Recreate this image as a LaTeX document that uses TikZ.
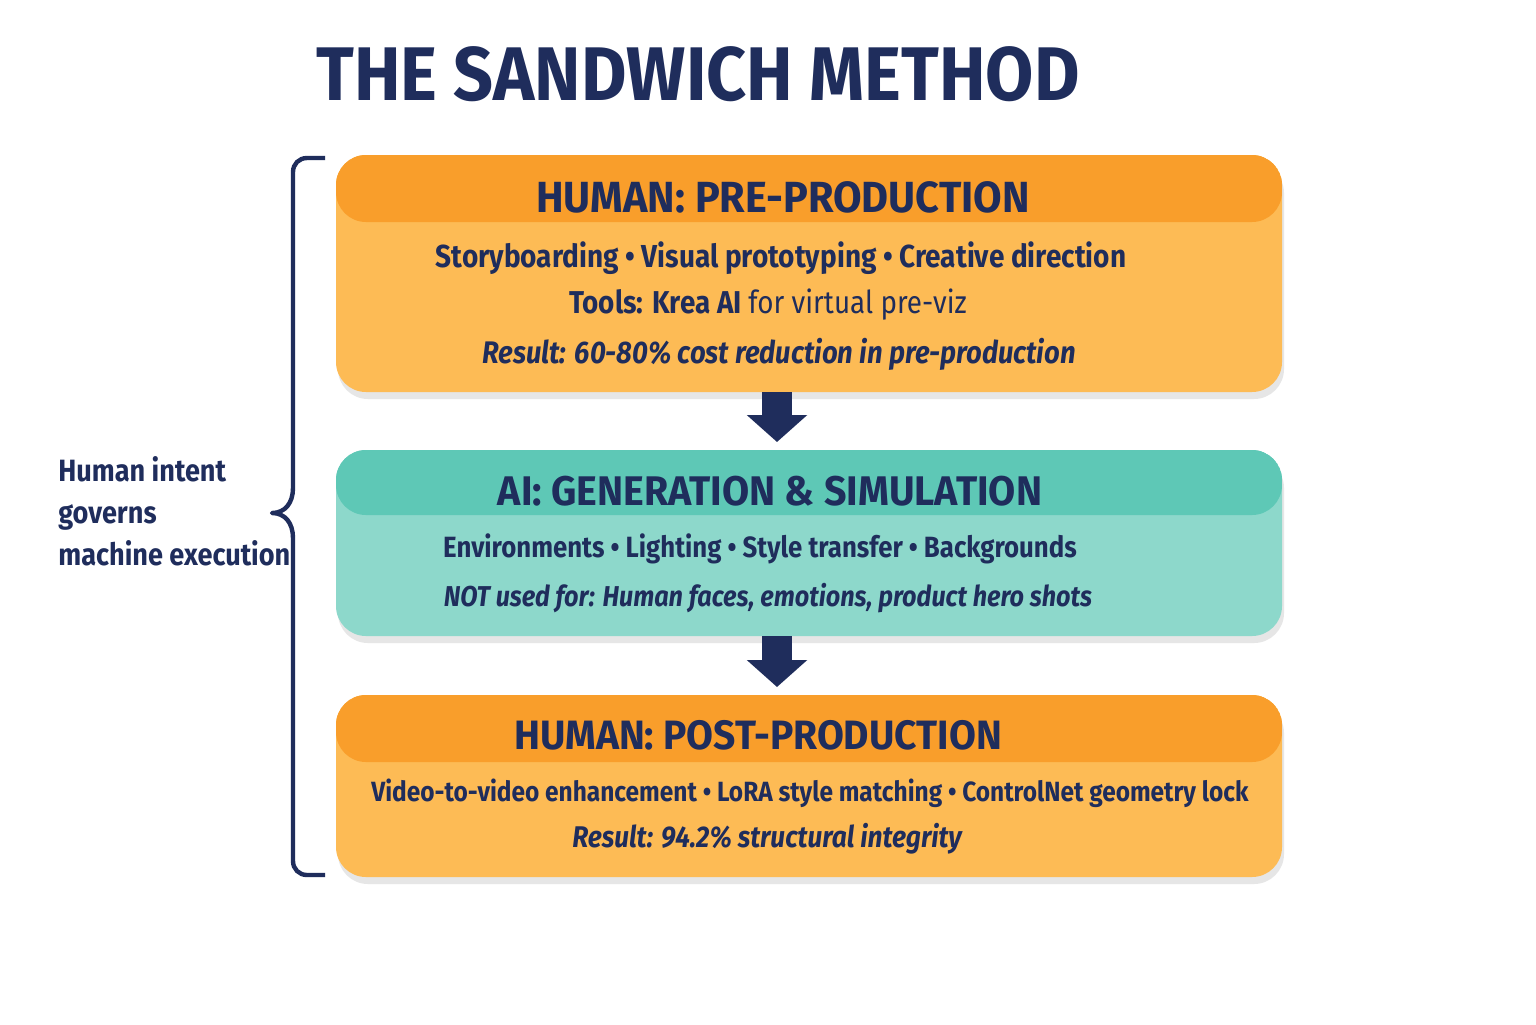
\documentclass[tikz,border=0pt]{standalone}
\usepackage{fontspec}
\setmainfont{Fira Sans}
\newfontfamily\titlefont[FakeStretch=0.92]{Fira Sans}
\newfontfamily\hdrfont[FakeStretch=0.95]{Fira Sans}
\newfontfamily\boxfont[FakeStretch=0.88]{Fira Sans}
\usetikzlibrary{arrows.meta}
\definecolor{navy}{HTML}{1F2D5C}
\definecolor{orhdr}{HTML}{F99E2B}
\definecolor{orbody}{HTML}{FDBB55}
\definecolor{tlhdr}{HTML}{5EC8B6}
\definecolor{tlbody}{HTML}{8DD8CB}
\definecolor{shade}{HTML}{E6E6E6}
\tikzset{
  panel/.style={rounded corners=15pt, minimum width=473pt, inner sep=0pt},
  orpanel/.style={panel, fill=orbody, path picture={\fill[orhdr] (path picture bounding box.north west) rectangle ([yshift=-33.5pt]path picture bounding box.north east);}},
  tlpanel/.style={panel, fill=tlbody, path picture={\fill[tlhdr] (path picture bounding box.north west) rectangle ([yshift=-32.5pt]path picture bounding box.north east);}},
  shadowbox/.style={rounded corners=15pt, fill=shade},
  hdrtext/.style={text=navy, font=\hdrfont\bfseries\fontsize{#1}{25}\selectfont, inner sep=0pt},
  bodytext/.style={text=navy, font=\boxfont\bfseries\fontsize{#1}{17}\selectfont, inner sep=0pt},
  bigarrow/.style={navy, line width=15pt, -{Triangle[width=29.5pt,length=13.5pt]}, shorten >=4pt},
}
\begin{document}
\begin{tikzpicture}[x=0.5pt,y=-0.5pt]
\useasboundingbox (0,0) rectangle (1536,1024);
\fill[white] (0,0) rectangle (1536,1024);
% title
\node[text=navy, font=\titlefont\bfseries\fontsize{38}{40}\selectfont, inner sep=0pt] (title) at (698,74) {THE SANDWICH METHOD};
% shadows
\fill[shadowbox] (338,163) rectangle (1284,399);
\fill[shadowbox] (338,458) rectangle (1284,643);
\fill[shadowbox] (338,703) rectangle (1284,884);
% panels
\node[orpanel, minimum height=118.5pt] (p1) at (809,273.5) {};
\node[tlpanel, minimum height=93pt] (p2) at (809,543) {};
\node[orpanel, minimum height=91pt] (p3) at (809,786) {};
% panel 1 text
\node[hdrtext=21.8] (h1) at (783,197) {HUMAN: PRE-PRODUCTION};
\node[bodytext=15.9] (l11) at (781,258) {Storyboarding • Visual prototyping • Creative direction};
\node[bodytext=15.8] (l12) at (768,305) {Tools: Krea AI \mdseries for virtual pre-viz};
\node[bodytext=15.6] (l13) at (779,354) {\itshape Result: 60-80\% cost reduction in pre-production};
% panel 2 text
\node[hdrtext=20.7] (h2) at (770,491) {AI: GENERATION \& SIMULATION};
\node[bodytext=14.65] (l21) at (760,549) {Environments • Lighting • Style transfer • Backgrounds};
\node[bodytext=14.35] (l22) at (768,598) {\itshape NOT used for: Human faces, emotions, product hero shots};
% panel 3 text
\node[hdrtext=20.5] (h3) at (758,735) {HUMAN: POST-PRODUCTION};
\node[bodytext=13.9] (l31) at (810,793) {Video-to-video enhancement • LoRA style matching • ControlNet geometry lock};
\node[bodytext=14.95] (l32) at (767,839) {\itshape Result: 94.2\% structural integrity};
% arrows
\draw[bigarrow] (777,392) -- (777,450);
\draw[bigarrow] (777,636) -- (777,695);
% brace
\coordinate (bt) at (325,158);
\coordinate (bm) at (272,513);
\coordinate (bb) at (325,875);
\draw[navy, line width=2.2pt, line join=round]
  (bt) -- (307,158) .. controls (299,158) and (293,164) .. (293,172)
  -- (293,488) .. controls (293,503) and (285,513) .. (bm)
  .. controls (285,513) and (293,523) .. (293,538)
  -- (293,861) .. controls (293,869) and (299,875) .. (307,875) -- (bb);
% left text
\node[text=navy, font=\boxfont\bfseries\fontsize{15.4}{21}\selectfont, align=left, anchor=west, inner sep=0pt] (side) at (58,511) {Human intent\\governs\\machine execution};
\end{tikzpicture}
\end{document}
